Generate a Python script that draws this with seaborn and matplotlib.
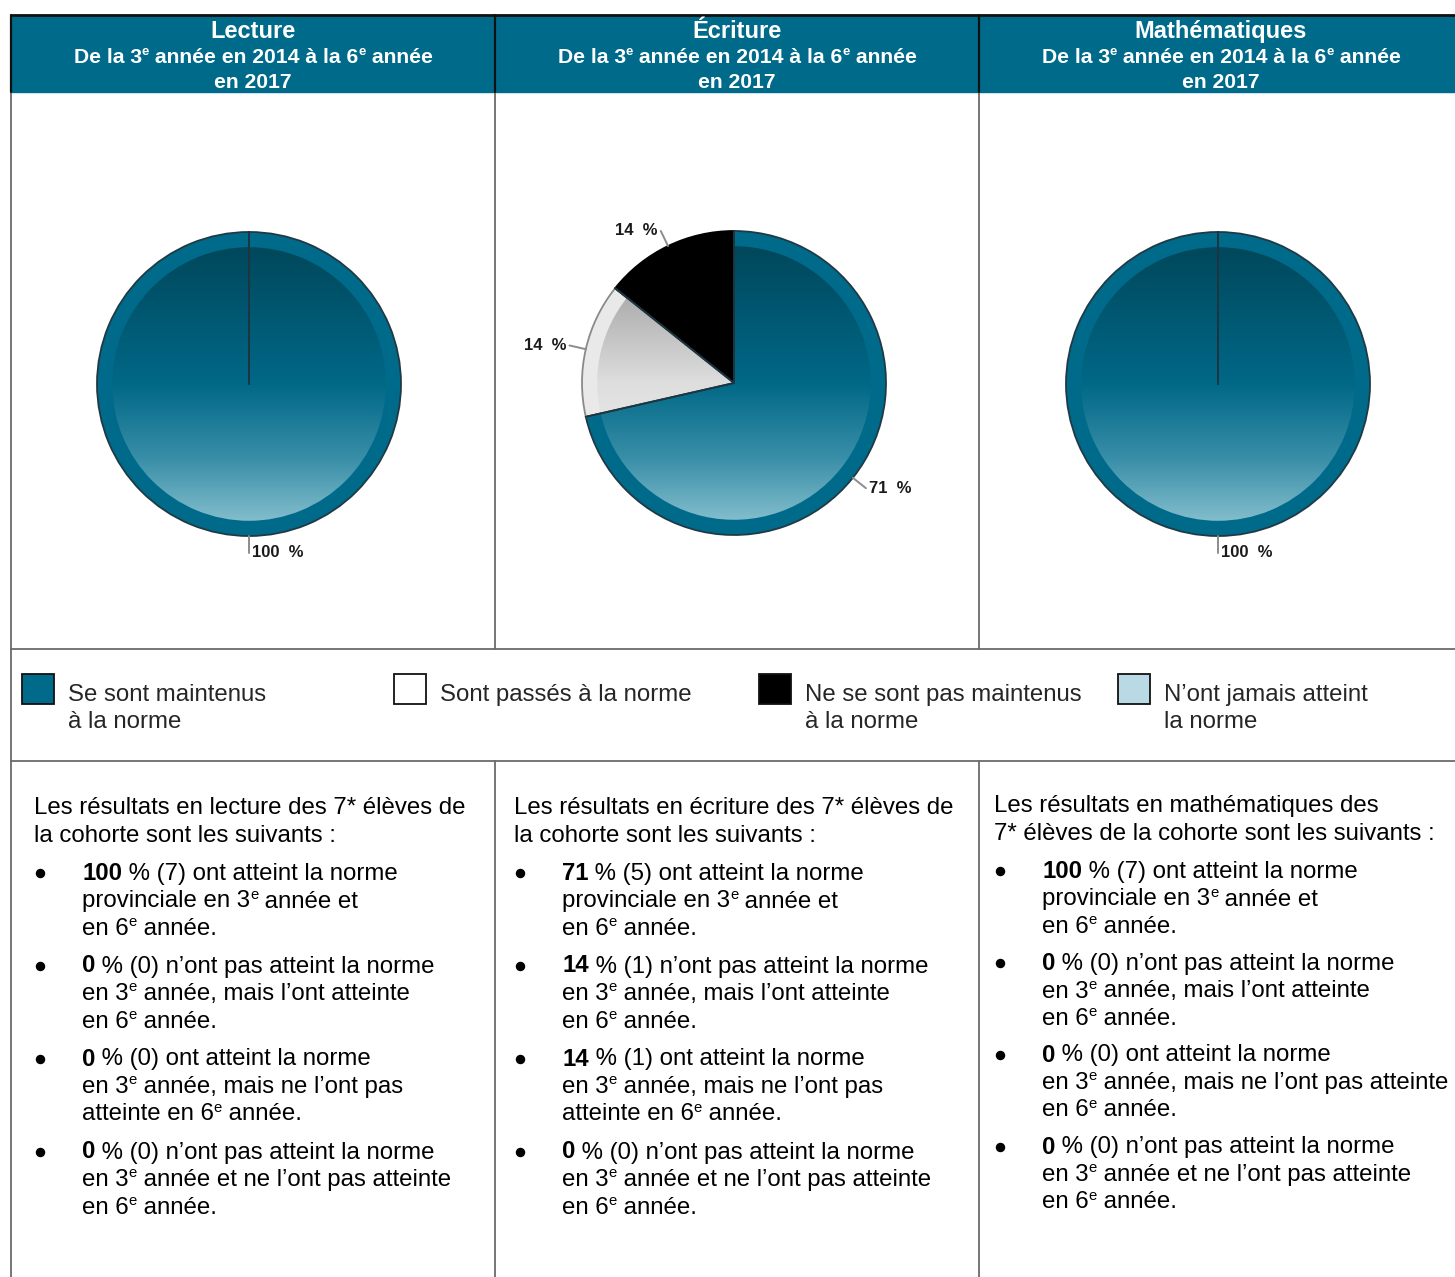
import matplotlib
matplotlib.use("Agg")
import matplotlib.pyplot as plt
from matplotlib.patches import Rectangle, Wedge
import seaborn as sns
import numpy as np

# ---- données ----
subjects = ['Lecture', 'Écriture', 'Mathématiques']
period_lines = ['De la 3^e année en 2014 à la 6^e année', 'en 2017']
categories = ['Se sont maintenus\nà la norme', 'Sont passés à la norme',
              'Ne se sont pas maintenus\nà la norme', 'N’ont jamais atteint\nla norme']
lecture_counts = [7, 0, 0, 0]
ecriture_counts = [5, 1, 1, 0]
maths_counts = [7, 0, 0, 0]

intro_lines = [
    ['Les résultats en lecture des {n}* élèves de', 'la cohorte sont les suivants :'],
    ['Les résultats en écriture des {n}* élèves de', 'la cohorte sont les suivants :'],
    ['Les résultats en mathématiques des', '{n}* élèves de la cohorte sont les suivants :'],
]
bullet_lines = [
    [' % ({n}) ont atteint la norme', 'provinciale en 3^e année et', 'en 6^e année.'],
    [' % ({n}) n’ont pas atteint la norme', 'en 3^e année, mais l’ont atteinte', 'en 6^e année.'],
    [' % ({n}) ont atteint la norme', 'en 3^e année, mais ne l’ont pas', 'atteinte en 6^e année.'],
    [' % ({n}) n’ont pas atteint la norme', 'en 3^e année et ne l’ont pas atteinte', 'en 6^e année.'],
]
# le texte de la 3e colonne est coupé autrement
bullet_lines_maths = [bullet_lines[0], bullet_lines[1],
                      [' % ({n}) ont atteint la norme', 'en 3^e année, mais ne l’ont pas atteinte', 'en 6^e année.'],
                      bullet_lines[3]]

# ---- style ----
sns.set_style("white")
plt.rcParams['font.family'] = ['Liberation Sans', 'DejaVu Sans']

TEAL = '#006a8a'
W, H = 1455, 1277
ring_colors = [TEAL, '#e9e9e9', '#000000', '#b9d9e4']
edge_colors = ['#1f3a45', '#8a8a8a', '#000000', '#5a7a85']
teal_cmap = sns.blend_palette(['#004456', '#00566f', '#006887', '#3a8fa8', '#93c8d5'], as_cmap=True)
grey_cmap = sns.blend_palette(['#8c8c8c', '#b3b3b3', '#dedede', '#ececec', '#f2f2f2'], as_cmap=True)
inner_cmaps = [teal_cmap, grey_cmap, None, sns.blend_palette(['#9cc6d3', '#d7ebf1'], as_cmap=True)]

fig = plt.figure(figsize=(W / 100, H / 100), dpi=100)
ax = fig.add_axes([0, 0, 1, 1])
ax.set_xlim(0, W)
ax.set_ylim(H, 0)
ax.axis('off')
renderer = fig.canvas.get_renderer()
PX = 100 / 72


def parse(line):
    parts = line.split('^e')
    runs = []
    for i, p in enumerate(parts):
        if p:
            runs.append((p, False))
        if i < len(parts) - 1:
            runs.append(('e', True))
    return runs


def put_runs(x, y, runs, size, weight='normal', color='black', bold_first=None):
    texts = []
    if bold_first:
        runs = [(bold_first, 'B')] + runs
    for txt, sup in runs:
        w_ = 'bold' if sup == 'B' else weight
        fs = size * 0.62 if sup is True else size
        dy = -size * PX * 0.36 if sup is True else 0
        t = ax.text(x, y + dy, txt, fontsize=fs, fontweight=w_, color=color,
                    ha='left', va='baseline')
        x += t.get_window_extent(renderer=renderer).width
        texts.append(t)
    return texts, x


def put_centered(cx, y, line, size, **kw):
    texts, end = put_runs(0, y, parse(line), size, **kw)
    shift = cx - end / 2
    for t in texts:
        px, py = t.get_position()
        t.set_position((px + shift, py))


# ---- cadre ----
gray = '#6b6b6b'
col_x = [11, 495, 979]
ax.add_patch(Rectangle((11, 15), W - 11, 77, color=TEAL, zorder=1))
ax.plot([11, W], [15, 15], color='#111111', lw=2, zorder=3)
for x in col_x:
    ax.plot([x, x], [15, 92], color='#111111', lw=1.6, zorder=3)
    ax.plot([x, x], [92, 649], color=gray, lw=1.3)
    ax.plot([x, x], [761, H], color=gray, lw=1.3)
ax.plot([11, 11], [649, 761], color=gray, lw=1.3)
ax.plot([11, W], [649, 649], color=gray, lw=1.3)
ax.plot([11, W], [761, 761], color=gray, lw=1.3)

# ---- en-têtes ----
head_cx = [253, 737, 1221]
for cx, subj in zip(head_cx, subjects):
    put_centered(cx, 38, subj, 17, weight='bold', color='white')
    put_centered(cx, 63, period_lines[0], 15.2, weight='bold', color='white')
    put_centered(cx, 88, period_lines[1], 15.2, weight='bold', color='white')

# ---- secteurs ----
R = 152
S = 200
pie_centers = [(249, 384), (734, 383), (1218, 384)]
all_counts = [lecture_counts, ecriture_counts, maths_counts]

for (cx, cy), counts in zip(pie_centers, all_counts):
    pax = fig.add_axes([(cx - S) / W, (H - cy - S) / H, 2 * S / W, 2 * S / H])
    idx = [i for i, v in enumerate(counts) if v > 0]
    vals = [counts[i] for i in idx]
    wedges, _ = pax.pie(vals, colors=[ring_colors[i] for i in idx], startangle=90,
                        counterclock=False, radius=1, frame=True,
                        wedgeprops=dict(linewidth=1.3))
    total = sum(counts)
    for w, i, v in zip(wedges, idx, vals):
        w.set_edgecolor(edge_colors[i])
        cmap = inner_cmaps[i]
        if cmap is not None:
            grad = np.linspace(0, 1, 256).reshape(-1, 1)
            im = pax.imshow(grad, cmap=cmap, extent=(-1, 1, -1, 1), origin='upper',
                            aspect='auto', zorder=3)
            clip = Wedge((0, 0), 0.9, w.theta1, w.theta2, transform=pax.transData)
            im.set_clip_path(clip)
        # bords radiaux
        for th in (w.theta1, w.theta2):
            a = np.deg2rad(th)
            pax.plot([0, np.cos(a)], [0, np.sin(a)], color='#1d3540', lw=1.3, zorder=4)
        # étiquette
        mid = np.deg2rad((w.theta1 + w.theta2) / 2)
        x0, y0 = np.cos(mid), np.sin(mid)
        pax.plot([x0, x0 * 1.11], [y0, y0 * 1.11], color='#8c8c8c', lw=1.4, zorder=4)
        left = x0 > -0.01
        pax.annotate(f'{round(100 * v / total)}  %', (x0 * 1.11, y0 * 1.11),
                     xytext=(3 if left else -3, 0), textcoords='offset pixels',
                     ha='left' if left else 'right', va='center',
                     fontsize=12, fontweight='bold', color='#1a1a1a', zorder=5)
    pax.set_xlim(-S / R, S / R)
    pax.set_ylim(-S / R, S / R)
    pax.set_aspect('equal')
    pax.axis('off')
    pax.patch.set_visible(False)

# ---- légende ----
leg_x = [22, 394, 759, 1118]
for x, lab, fc in zip(leg_x, categories, ring_colors):
    face = '#ffffff' if fc == '#e9e9e9' else fc
    ax.add_patch(Rectangle((x, 674), 32, 30, facecolor=face, edgecolor='#111111', lw=1.3))
    for k, part in enumerate(lab.split('\n')):
        ax.text(x + 46, 701 + 27 * k, part, fontsize=17.3, ha='left', va='baseline')

# ---- texte ----
text_x = [34, 514, 994]
intro_y = [[814, 841.5], [814, 841.5], [812, 839.5]]
group_y = [[880, 972.5, 1065.5, 1158.5], [880, 972.5, 1065.5, 1158.5], [878, 970, 1061.5, 1153.5]]
for c, counts in enumerate(all_counts):
    total = sum(counts)
    x0 = text_x[c]
    for line, y in zip(intro_lines[c], intro_y[c]):
        put_runs(x0, y, parse(line.format(n=total)), 17.3)
    lines = bullet_lines_maths if c == 2 else bullet_lines
    for k, (n, gy) in enumerate(zip(counts, group_y[c])):
        ax.plot(x0 + 6, gy - 7, 'o', color='black', ms=5.8)
        pct = round(100 * n / total)
        for j, line in enumerate(lines[k]):
            runs = parse(line.format(n=n))
            put_runs(x0 + 48, gy + 27.5 * j, runs, 17.3,
                     bold_first=str(pct) if j == 0 else None)

fig.savefig('out.png', dpi=100)
